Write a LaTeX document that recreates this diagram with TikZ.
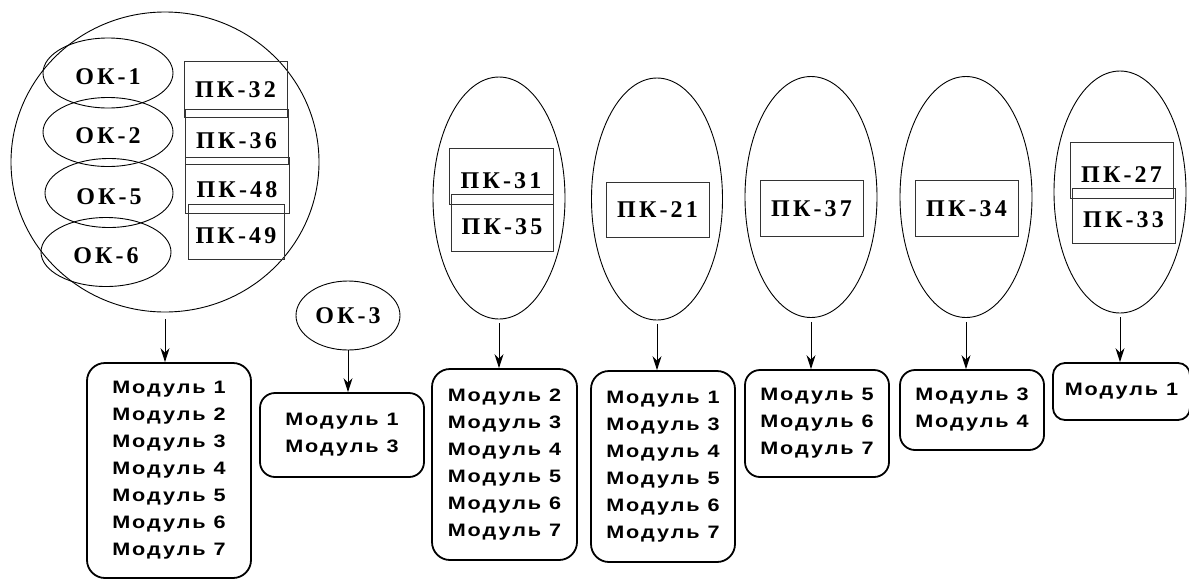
\documentclass[tikz,border=0pt]{standalone}
\usepackage{fontspec}
\setmainfont{Liberation Serif}
\newfontfamily\pkfont[LetterSpace=13]{Liberation Serif Bold}
\newfontfamily\modfont[LetterSpace=11, FakeStretch=1.2]{Liberation Sans Bold}
\usepackage{tikz}
\usetikzlibrary{shapes, arrows.meta, positioning}

\begin{document}
\begin{tikzpicture}[x=1pt, y=-1pt,
  ok/.style={draw, ellipse, line width=0.9pt, inner sep=0pt, font=\pkfont\fontsize{24}{24}\selectfont},
  okl/.style={ok, text height=23pt, text depth=0pt},
  pk/.style={draw=black!80, rectangle, line width=1pt, inner sep=0pt, text height=16pt, text depth=0pt, font=\pkfont\fontsize{24}{24}\selectfont},
  pkl/.style={pk, text height=24pt},
  modbox/.style={draw, rounded corners=18pt, line width=1.8pt, align=center, inner sep=0pt, font=\modfont\fontsize{18}{27}\selectfont},
  arr/.style={-{Stealth[length=14pt, width=9pt]}, line width=1pt, shorten <=4pt}]

\useasboundingbox (0,0) rectangle (1189,582);

% first group
\node[ok, minimum width=308, minimum height=300] (grp1) at (165,162) {};
\node[okl, minimum width=130, minimum height=70] (ok1) at (108,73) {ОК-1};
\node[okl, minimum width=130, minimum height=69] (ok2) at (108,132) {ОК-2};
\node[okl, minimum width=128, minimum height=69] (ok5) at (109,193) {ОК-5};
\node[okl, minimum width=130, minimum height=69] (ok6) at (106,252) {ОК-6};
\node[pk, minimum width=103, minimum height=56] (pk32) at (235.5,89) {ПК-32};
\node[pkl, minimum width=103, minimum height=55] (pk36) at (236.5,136.5) {ПК-36};
\node[pkl, minimum width=104, minimum height=56] (pk48) at (237,185) {ПК-48};
\node[pkl, minimum width=96, minimum height=55] (pk49) at (236,231.5) {ПК-49};

\node[ok, minimum width=104, minimum height=69] (ok3) at (348,315.5) {ОК-3};

% ellipses with competences
\node[ok, minimum width=132, minimum height=242] (e31) at (499,198) {};
\node[pkl, minimum width=104, minimum height=56] (pk31) at (501,176) {ПК-31};
\node[pkl, minimum width=102, minimum height=57] (pk35) at (502,222.5) {ПК-35};

\node[ok, minimum width=131, minimum height=242] (e21) at (657,199) {};
\node[pk, minimum width=103, minimum height=55] (pk21) at (657.5,209.5) {ПК-21};

\node[ok, minimum width=132, minimum height=241] (e37) at (811,197) {};
\node[pk, minimum width=103, minimum height=56] (pk37) at (811.5,208) {ПК-37};

\node[ok, minimum width=132, minimum height=241] (e34) at (966,197) {};
\node[pk, minimum width=103, minimum height=56] (pk34) at (966.5,208) {ПК-34};

\node[ok, minimum width=132, minimum height=242] (e27) at (1120,192) {};
\node[pkl, minimum width=103, minimum height=56] (pk27) at (1121.5,170) {ПК-27};
\node[pkl, minimum width=103, minimum height=55] (pk33) at (1123.5,215.5) {ПК-33};

% modules
\node[modbox, minimum width=164, minimum height=215] (m1) at (169,470.5)
  {Модуль 1\\Модуль 2\\Модуль 3\\Модуль 4\\Модуль 5\\Модуль 6\\Модуль 7};
\node[modbox, rounded corners=15pt, minimum width=164, minimum height=84] (m2) at (342,435)
  {Модуль 1\\Модуль 3};
\node[modbox, minimum width=145, minimum height=191] (m3) at (504.5,464.5)
  {Модуль 2\\Модуль 3\\Модуль 4\\Модуль 5\\Модуль 6\\Модуль 7};
\node[modbox, minimum width=144, minimum height=191] (m4) at (663,466.5)
  {Модуль 1\\Модуль 3\\Модуль 4\\Модуль 5\\Модуль 6\\Модуль 7};
\node[modbox, rounded corners=15pt, minimum width=144, minimum height=107] (m5) at (817,423.5)
  {Модуль 5\\Модуль 6\\Модуль 7};
\node[modbox, rounded corners=15pt, minimum width=144, minimum height=80] (m6) at (972,410)
  {Модуль 3\\Модуль 4};
\node[modbox, rounded corners=12pt, minimum width=137, minimum height=57] (m7) at (1121.5,391.5)
  {Модуль 1};

\draw[arr, shorten <=7pt] (grp1.south) -- (grp1.south |- m1.north);
\draw[arr, shorten <=0pt] (ok3.south) -- (ok3.south |- m2.north);
\draw[arr] (e31.south) -- (e31.south |- m3.north);
\draw[arr] (e21.south) -- (e21.south |- m4.north);
\draw[arr] (e37.south) -- (e37.south |- m5.north);
\draw[arr] (e34.south) -- (e34.south |- m6.north);
\draw[arr] (e27.south) -- (e27.south |- m7.north);

\end{tikzpicture}
\end{document}
